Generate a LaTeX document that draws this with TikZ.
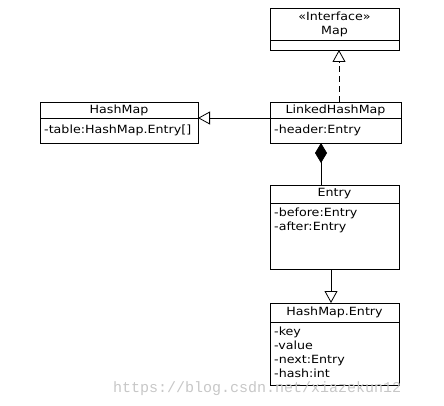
\documentclass[tikz,border=0pt]{standalone}
\usepackage{fontspec}
\setmainfont{DejaVu Sans}[FakeStretch=1.12]
\newfontfamily\wmfont{Liberation Mono}
\usepackage{tikz}
\usetikzlibrary{positioning,arrows.meta}
\newcommand\umlfont{\fontsize{11.3}{14}\selectfont}

\begin{document}
\begin{tikzpicture}[x=1pt, y=-1pt,
  cls/.style 2 args={rectangle, draw, line width=0.8pt, minimum width=#1, minimum height=#2,
                     inner sep=0pt, outer sep=0pt, align=center, font=\umlfont},
  attr/.style={align=left, inner sep=0pt, font=\umlfont},
  gen/.style={line width=0.8pt, -{Triangle[open, length=12pt, width=13pt]}},
  real/.style={gen, dash pattern=on 6pt off 4pt},
  comp/.style={line width=0.8pt, -{Diamond[length=20pt, width=12pt]}}]
\useasboundingbox (0,0) rectangle (444,406);
% Map
\node[cls={129pt}{32pt}, anchor=north west] (mapT) at (270,8) {«Interface»\\Map};
\node[cls={129pt}{10pt}, below=0pt of mapT] (mapB) {};
% HashMap
\node[cls={158pt}{16pt}, anchor=north west] (hmT) at (40,102) {HashMap};
\node[cls={158pt}{25pt}, below=0pt of hmT] (hmB) {};
\node[attr, below right=7pt and 4pt of hmB.north west] (hmA) {-table:HashMap.Entry[]};
% LinkedHashMap
\node[cls={131pt}{16pt}, anchor=north west] (lhmT) at (270,102) {LinkedHashMap};
\node[cls={131pt}{25pt}, below=0pt of lhmT] (lhmB) {};
\node[attr, below right=7pt and 4pt of lhmB.north west] (lhmA) {-header:Entry};
% Entry
\node[cls={129pt}{18pt}, anchor=north west] (entT) at (270,185) {Entry};
\node[cls={129pt}{66pt}, below=0pt of entT] (entB) {};
\node[attr, below right=5pt and 4pt of entB.north west] (entA) {-before:Entry\\-after:Entry};
% HashMap.Entry
\node[cls={129pt}{19pt}, anchor=north west] (hmeT) at (270,303) {HashMap.Entry};
\node[cls={129pt}{63pt}, below=0pt of hmeT] (hmeB) {};
\node[attr, below right=5pt and 4pt of hmeB.north west] (hmeA) {-key\\-value\\-next:Entry\\-hash:int};
% liens
\draw[real] ([xshift=69pt]mapB.south west |- lhmT.north) -- ([xshift=69pt]mapB.south west);
\draw[gen] (lhmT.south west) -- (hmT.south east);
\draw[comp] ([xshift=51pt]entT.north west) -- ([xshift=51pt]lhmB.south west);
\draw[gen] ([xshift=61pt]entB.south west) -- ([xshift=61pt]hmeT.north west);
% filigrane
\node[anchor=base west, inner sep=0pt, text=black!22, font=\wmfont\fontsize{15}{15}\selectfont] (wm) at (113,392) {https://blog.csdn.net/xiazekun12};
\end{tikzpicture}
\end{document}
